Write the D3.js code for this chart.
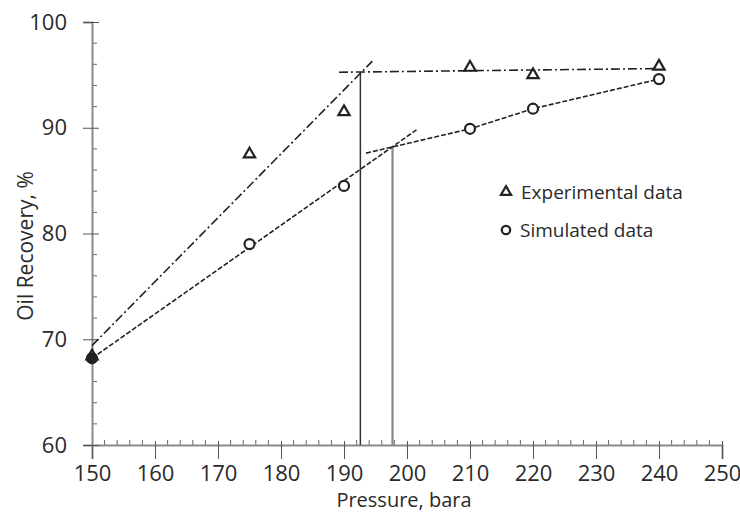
<!DOCTYPE html>
<html>
<head>
<meta charset="utf-8">
<script src="https://cdn.jsdelivr.net/npm/d3@7"></script>
<style>
  body { margin: 0; background: #fff; }
  svg text { font-family: "Open Sans", "Noto Sans", sans-serif; fill: #2a2a2a; }
</style>
</head>
<body>
<svg id="chart" width="740" height="515"></svg>
<script>
// measured points
let pressure = [150, 175, 190, 210, 220, 240];
let experimental = [68.4, 87.5, 91.5, 95.7, 95.0, 95.8];
let simulated = [68.2, 79.0, 84.5, 89.9, 91.8, 94.6];

// trend lines drawn on the figure, [pressure, recovery]
let expFitLow = [[150, 69.4], [194.5, 96.3]];
let expFitHigh = [[189.2, 95.25], [240, 95.6]];
let simFitLow = [[150, 68.2], [201.5, 89.8]];
let simFitHigh = [[193.5, 87.6], [210, 89.9], [220, 91.8], [240, 94.6]];
let expBreak = [192.6, 95.25];
let simBreak = [197.7, 88.2];

let xTicks = d3.range(150, 251, 10);
let yTicks = d3.range(60, 101, 10);

let svg = d3.select('#chart');
let x = d3.scaleLinear().domain([150, 250]).range([92, 722]);
let y = d3.scaleLinear().domain([60, 100]).range([445, 22]);

let axisColor = '#8a8a8a';
let tickFont = '22px';

// minor ticks, inward only
svg.append('g')
    .selectAll('line')
    .data(d3.range(150, 251, 2).filter(v => v % 10 !== 0))
    .enter().append('line')
    .attr('x1', d => x(d)).attr('x2', d => x(d))
    .attr('y1', y(60) - 5).attr('y2', y(60))
    .attr('stroke', '#666').attr('stroke-width', 1);

svg.append('g')
    .selectAll('line')
    .data(d3.range(60, 101, 2).filter(v => v % 10 !== 0))
    .enter().append('line')
    .attr('x1', x(150)).attr('x2', x(150) + 5)
    .attr('y1', d => y(d)).attr('y2', d => y(d))
    .attr('stroke', '#666').attr('stroke-width', 1);

// axes
let xAxis = svg.append('g')
    .attr('transform', `translate(0,${y(60)})`)
    .call(d3.axisBottom(x).tickValues(xTicks).tickSize(14).tickPadding(6).tickFormat(d3.format('d')));
xAxis.select('.domain').attr('stroke', axisColor).attr('stroke-width', 2);
xAxis.selectAll('.tick line').attr('stroke', '#555').attr('y1', -4);
xAxis.selectAll('.tick text').style('font-size', tickFont).attr('fill', '#2a2a2a');

let yAxis = svg.append('g')
    .attr('transform', `translate(${x(150)},0)`)
    .call(d3.axisLeft(y).tickValues(yTicks).tickSize(9).tickPadding(16).tickFormat(d3.format('d')));
yAxis.select('.domain').attr('stroke', axisColor).attr('stroke-width', 2);
yAxis.selectAll('.tick line').attr('stroke', '#555').attr('x1', 7);
yAxis.selectAll('.tick text').style('font-size', tickFont).attr('fill', '#2a2a2a');

// axis titles
svg.append('text')
    .attr('x', 404).attr('y', 507)
    .attr('text-anchor', 'middle')
    .style('font-size', '20px')
    .text('Pressure, bara');

svg.append('text')
    .attr('transform', 'translate(33,246) rotate(-90)')
    .attr('text-anchor', 'middle')
    .style('font-size', '21px')
    .text('Oil Recovery, %');

// breakpoint verticals
svg.append('line')
    .attr('x1', x(expBreak[0])).attr('x2', x(expBreak[0]))
    .attr('y1', y(expBreak[1])).attr('y2', y(60))
    .attr('stroke', '#333').attr('stroke-width', 1.5);

svg.append('line')
    .attr('x1', x(simBreak[0])).attr('x2', x(simBreak[0]))
    .attr('y1', y(simBreak[1])).attr('y2', y(60))
    .attr('stroke', '#888').attr('stroke-width', 2.2);

// trend lines
let line = d3.line().x(d => x(d[0])).y(d => y(d[1]));

svg.selectAll('.dashdot')
    .data([expFitLow, expFitHigh])
    .enter().append('path')
    .attr('d', line)
    .attr('fill', 'none')
    .attr('stroke', '#222')
    .attr('stroke-width', 1.6)
    .attr('stroke-dasharray', '9,3,2,3');

svg.selectAll('.dashed')
    .data([simFitLow, simFitHigh])
    .enter().append('path')
    .attr('d', line)
    .attr('fill', 'none')
    .attr('stroke', '#222')
    .attr('stroke-width', 1.6)
    .attr('stroke-dasharray', '5,2');

// markers
let tri = d3.symbol().type(d3.symbolTriangle).size(55);

svg.selectAll('.exp')
    .data(pressure.map((p, i) => [p, experimental[i]]))
    .enter().append('path')
    .attr('d', tri)
    .attr('transform', d => `translate(${x(d[0])},${y(d[1])})`)
    .attr('fill', '#fff')
    .attr('stroke', '#222')
    .attr('stroke-width', 2.2);

svg.selectAll('.sim')
    .data(pressure.map((p, i) => [p, simulated[i]]))
    .enter().append('circle')
    .attr('cx', d => x(d[0]))
    .attr('cy', d => y(d[1]))
    .attr('r', 5)
    .attr('fill', (d, i) => i === 0 ? '#222' : '#fff')
    .attr('stroke', '#222')
    .attr('stroke-width', 2.2);

// legend
let legend = svg.append('g');
legend.append('path')
    .attr('d', d3.symbol().type(d3.symbolTriangle).size(45))
    .attr('transform', 'translate(506,192)')
    .attr('fill', '#fff').attr('stroke', '#222').attr('stroke-width', 2.2);
legend.append('text')
    .attr('x', 521).attr('y', 199)
    .style('font-size', '19px')
    .text('Experimental data');
legend.append('circle')
    .attr('cx', 506).attr('cy', 230).attr('r', 4.2)
    .attr('fill', '#fff').attr('stroke', '#222').attr('stroke-width', 2.2);
legend.append('text')
    .attr('x', 520).attr('y', 237)
    .style('font-size', '19px')
    .text('Simulated data');
</script>
</body>
</html>
